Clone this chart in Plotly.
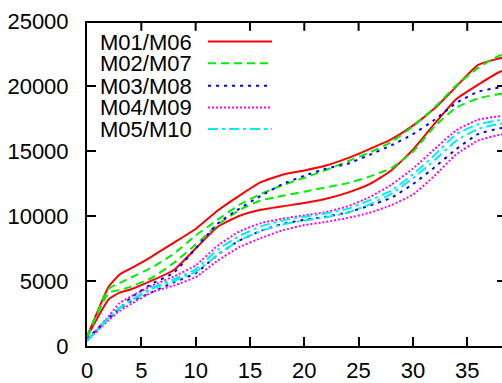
import plotly.graph_objects as go

x = [0, 2, 3, 4, 6, 8, 10, 12, 14, 16, 18, 20, 22, 24, 26, 28, 30, 32, 34, 36, 38, 40]

m01 = [700, 4570, 5500, 5950, 6900, 7950, 9000, 10400, 11550, 12600, 13180, 13500, 13880, 14450, 15150, 15900, 16950, 18280, 19970, 21620, 22140, 22350]
m06 = [700, 3600, 4100, 4350, 5050, 5850, 7500, 9150, 10000, 10480, 10750, 11000, 11330, 11800, 12450, 13500, 15100, 17100, 19000, 20100, 21100, 21500]
m02 = [700, 4400, 4850, 5250, 6050, 7100, 8500, 9700, 10850, 11700, 12370, 12940, 13540, 14210, 14880, 15680, 16900, 18350, 20050, 21400, 22350, 22600]
m07 = [700, 4100, 4300, 4550, 5250, 6400, 7800, 9300, 10450, 11200, 11550, 11870, 12200, 12530, 13030, 13680, 14950, 16900, 18350, 19050, 19380, 19500]
m03 = [500, 2200, 2900, 3700, 4800, 5650, 7500, 9400, 10550, 11550, 12450, 13100, 13640, 14020, 14700, 15430, 16300, 17400, 18700, 19560, 19890, 20000]
m08 = [500, 2100, 2850, 3400, 4150, 4900, 5600, 7000, 8100, 8850, 9400, 9700, 9950, 10280, 10800, 11400, 12450, 13750, 15150, 16300, 16750, 16900]
m04 = [400, 2300, 3300, 3800, 4650, 5350, 6200, 7700, 8800, 9450, 9800, 10050, 10300, 10750, 11450, 12400, 13650, 15150, 16600, 17400, 17680, 17800]
m09 = [400, 2000, 2700, 3200, 4150, 4650, 5300, 6550, 7600, 8300, 8900, 9300, 9550, 9850, 10250, 10830, 11650, 13100, 14750, 15800, 16250, 16400]
m05 = [400, 2200, 2950, 3500, 4500, 5150, 5900, 7400, 8450, 9200, 9650, 9950, 10200, 10550, 11200, 11950, 13200, 14700, 16300, 17050, 17380, 17500]
m10 = [400, 2150, 2900, 3450, 4400, 5000, 5700, 7000, 8100, 8850, 9350, 9650, 9900, 10250, 10900, 11700, 12900, 14300, 15800, 16700, 17100, 17200]

legend_labels = ["M01/M06", "M02/M07", "M03/M08", "M04/M09", "M05/M10"]
x_ticks = [0, 5, 10, 15, 20, 25, 30, 35]
y_ticks = [0, 5000, 10000, 15000, 20000, 25000]
y_tick_text = ["0", "5000", "10000", "15000", "20000", "25000"]

styles = [
    dict(color="#ff0000", dash="solid"),
    dict(color="#00ee00", dash="8px,5px"),
    dict(color="#0000ff", dash="3px,5px"),
    dict(color="#ff00ff", dash="2px,2px"),
    dict(color="#00eeee", dash="10px,4px,3px,4px"),
]
pairs = [(m01, m06), (m02, m07), (m03, m08), (m04, m09), (m05, m10)]

fig = go.Figure()
for (a, b), st in zip(pairs, styles):
    for ys in (a, b):
        fig.add_trace(go.Scatter(
            x=x, y=ys, mode="lines", showlegend=False,
            line=dict(color=st["color"], dash=st["dash"], width=2,
                      shape="spline", smoothing=0.45),
        ))

FONT = "Liberation Sans, Arial, Helvetica, sans-serif"
W, H = 502, 383
L, R, T, B = 87, 0, 21, 31
pw = W - L - R
ph = H - T - B

# manual gnuplot-style legend (text then sample on the right)
row_px = [42, 64, 87, 109, 131]
for lab, st, ypx in zip(legend_labels, styles, row_px):
    yp = (H - B - ypx) / ph
    fig.add_annotation(xref="paper", yref="paper", x=(193 - L) / pw, y=yp,
                       text=lab, showarrow=False, xanchor="right", yanchor="middle",
                       height=20, borderpad=0,
                       font=dict(family=FONT, size=22, color="black"))
    fig.add_shape(type="line", xref="paper", yref="paper",
                  x0=(208 - L) / pw, x1=(272 - L) / pw, y0=yp, y1=yp,
                  line=dict(color=st["color"], dash=st["dash"], width=2))

# top border with downward ticks
fig.add_shape(type="line", xref="paper", yref="paper", x0=0, x1=1,
              y0=1 - 1 / ph, y1=1 - 1 / ph, layer="above",
              line=dict(color="black", width=2))
for xt in x_ticks[1:]:
    fig.add_shape(type="line", xref="x", yref="paper", x0=xt, x1=xt,
                  y0=1 - 10 / ph, y1=1, layer="above",
                  line=dict(color="black", width=2))

# right-side mirrored ticks (border lies just beyond the visible window)
for yt in y_ticks[1:-1]:
    fig.add_shape(type="line", xref="paper", yref="y",
                  x0=(497 - L) / pw, x1=1.0, y0=yt, y1=yt, layer="above",
                  line=dict(color="black", width=2))

fig.update_layout(
    width=W, height=H,
    margin=dict(l=L, r=R, t=T, b=B),
    paper_bgcolor="white", plot_bgcolor="white",
    font=dict(family=FONT, size=22, color="black"),
    showlegend=False,
)
fig.update_xaxes(range=[0, 38.2], tickvals=x_ticks, ticks="inside", ticklen=9,
                 tickwidth=2, tickcolor="black", showline=True, linecolor="black",
                 linewidth=2, mirror=False, showgrid=False, zeroline=False,
                 ticklabelstandoff=4)
fig.update_yaxes(range=[0, 25000], tickvals=y_ticks, ticktext=y_tick_text,
                 ticks="inside", ticklen=9, tickwidth=2,
                 tickcolor="black", showline=True, linecolor="black", linewidth=2,
                 mirror=False, showgrid=False, zeroline=False,
                 ticklabelstandoff=12)

fig.write_html("out.html")
